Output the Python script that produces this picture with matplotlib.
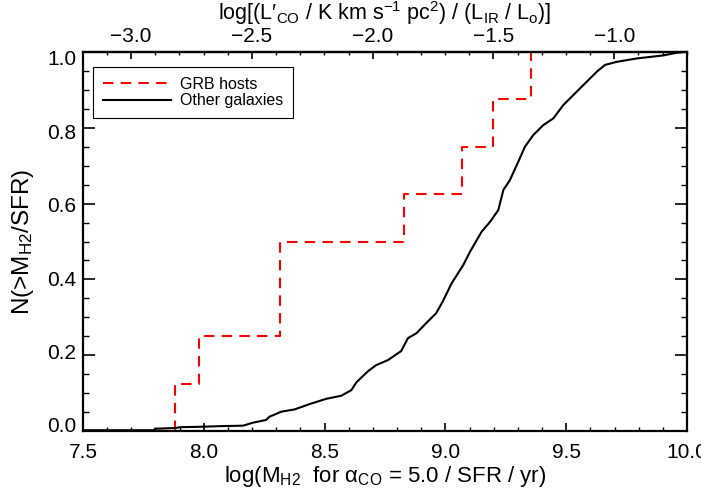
import matplotlib
matplotlib.use("Agg")
import matplotlib.pyplot as plt
import matplotlib.transforms as mtransforms
from matplotlib.ticker import MultipleLocator, FormatStrFormatter, FuncFormatter
import numpy as np

plt.rcParams["font.family"] = ["Liberation Sans", "DejaVu Sans"]
plt.rcParams["mathtext.fontset"] = "custom"
plt.rcParams["mathtext.rm"] = "Liberation Sans"
plt.rcParams["mathtext.it"] = "Liberation Sans:italic"
plt.rcParams["mathtext.bf"] = "Liberation Sans:bold"

# log(M_H2 / SFR) of the GRB hosts
grb_logm_sfr = [7.88, 7.98, 8.315, 8.315, 8.83, 9.067, 9.197, 9.353]

# cumulative curve of the comparison sample
other_logm_sfr = [7.50, 7.79, 7.80, 7.885, 7.90, 7.976, 8.08, 8.162, 8.204, 8.257,
                  8.273, 8.321, 8.376, 8.438, 8.507, 8.569, 8.611, 8.631, 8.680, 8.714,
                  8.762, 8.817, 8.845, 8.880, 8.918, 8.962, 8.990, 9.026, 9.074, 9.102,
                  9.150, 9.185, 9.219, 9.240, 9.267, 9.302, 9.329, 9.364, 9.405, 9.447,
                  9.488, 9.543, 9.592, 9.630, 9.661, 9.709, 9.792, 9.902, 9.957, 9.990]
other_frac = [0.002, 0.002, 0.006, 0.008, 0.010, 0.011, 0.013, 0.014, 0.022, 0.029,
              0.038, 0.051, 0.057, 0.071, 0.085, 0.093, 0.108, 0.128, 0.158, 0.174,
              0.187, 0.211, 0.245, 0.258, 0.283, 0.311, 0.343, 0.390, 0.438, 0.473,
              0.526, 0.552, 0.583, 0.636, 0.662, 0.711, 0.750, 0.781, 0.807, 0.825,
              0.860, 0.895, 0.926, 0.950, 0.966, 0.974, 0.983, 0.991, 0.998, 1.000]

# log(alpha_CO = 5) + 10 : converts log(M_H2/SFR) to log(L'CO/L_IR)
LOG_OFFSET = np.log10(5.0) + 10.0

# step curve for the GRB hosts
grb = np.sort(np.array(grb_logm_sfr))
frac = np.arange(1, len(grb) + 1) / len(grb)
grb_x = np.repeat(grb, 2)
grb_y = np.concatenate([[0.0], np.repeat(frac, 2)[:-1]])


def minus_fmt(v, pos):
    return f"{v:.1f}".replace("-", "\u2212")


fig = plt.figure(figsize=(7.01, 4.97), dpi=100)
ax = fig.add_axes([83 / 701, 1 - 431 / 497, 604 / 701, 379 / 497])

ax.plot(grb_x, grb_y, color="#ff0000", lw=1.5, dashes=(5, 3.5), label="GRB hosts")
ax.plot(other_logm_sfr, other_frac, color="black", lw=1.5, label="Other galaxies")

ax.set_xlim(7.5, 10.0)
ax.set_ylim(0.0, 1.0)
ax.xaxis.set_major_locator(MultipleLocator(0.5))
ax.xaxis.set_minor_locator(MultipleLocator(0.1))
ax.xaxis.set_major_formatter(FormatStrFormatter("%.1f"))
ax.yaxis.set_major_locator(MultipleLocator(0.2))
ax.yaxis.set_minor_locator(MultipleLocator(0.05))
ax.yaxis.set_major_formatter(FormatStrFormatter("%.1f"))

ax.tick_params(axis="x", which="major", direction="in", length=5.5, width=1.2,
               top=False, labelsize=15, pad=9)
ax.tick_params(axis="x", which="minor", direction="in", length=2.8, width=1.0, top=False)
ax.tick_params(axis="y", which="major", direction="in", length=8.5, width=1.2,
               right=True, labelsize=15, pad=5)
ax.tick_params(axis="y", which="minor", direction="in", length=4, width=1.0, right=True)
for sp in ax.spines.values():
    sp.set_linewidth(1.6)

secax = ax.secondary_xaxis("top", functions=(lambda x: x - LOG_OFFSET,
                                             lambda x: x + LOG_OFFSET))
secax.xaxis.set_major_locator(MultipleLocator(0.5))
secax.xaxis.set_minor_locator(MultipleLocator(0.1))
secax.xaxis.set_major_formatter(FuncFormatter(minus_fmt))
secax.tick_params(which="major", direction="in", length=5, width=1.2, labelsize=15, pad=4)
secax.tick_params(which="minor", direction="in", length=2.5, width=1.0)
secax.spines["top"].set_linewidth(1.6)
secax.set_xlabel(r"log[(L′$_{\rm CO}$ / K km s$^{-1}$ pc$^{2}$) / (L$_{\rm IR}$ / L$_{\rm o}$)]",
                 fontsize=15.5, labelpad=5.5)

ax.set_xlabel(r"log(M$_{\rm H2}$  for α$_{\rm CO}$ = 5.0 / SFR / yr)", fontsize=16, labelpad=1)
ax.set_ylabel(r"N(>M$_{\rm H2}$/SFR)", fontsize=17.5, labelpad=8)

# the y tick labels sit slightly pulled toward the middle of the axis
fig.canvas.draw()
for tick in ax.yaxis.get_major_ticks():
    dy = (tick.get_loc() - 0.5) * -12.0 / 100.0
    tick.label1.set_transform(tick.label1.get_transform()
                              + mtransforms.ScaledTranslation(0, dy, fig.dpi_scale_trans))

leg = ax.legend(loc="upper left", bbox_to_anchor=(10 / 604, 1 - 15 / 379),
                borderaxespad=0, fontsize=11.5, handlelength=4.3, handletextpad=0.55,
                borderpad=0.6, labelspacing=0.1, fancybox=False, frameon=True,
                edgecolor="black", framealpha=1)
leg.get_frame().set_linewidth(0.8)

fig.savefig("out.png", dpi=100)
